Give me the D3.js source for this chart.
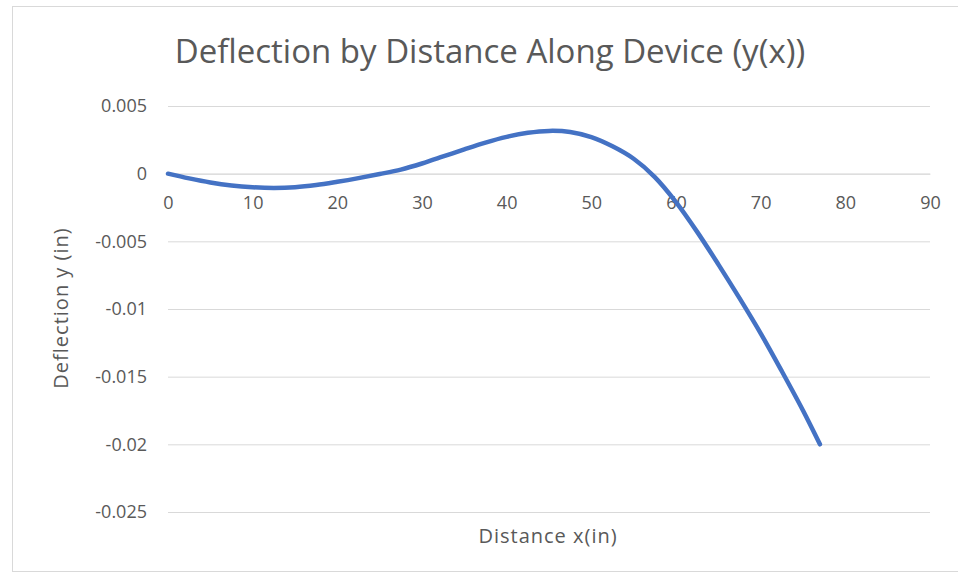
<!DOCTYPE html>
<html>
<head>
<meta charset="utf-8">
<script src="https://cdn.jsdelivr.net/npm/d3@7"></script>
<style>
  body { margin: 0; background: #fff; }
  text { font-family: "Open Sans", sans-serif; }
</style>
</head>
<body>
<script>
// data
var distance = [0, 2.5, 5, 7.5, 10, 12.5, 15, 17.5, 20, 22.5, 25, 27.5, 30, 32.5, 35, 37.5, 40, 42.5, 45, 47.5, 50, 52.5, 55, 57.5, 60, 62.5, 65, 67.5, 70, 72.5, 75, 77];
var deflection = [0, -0.00035, -0.00065, -0.00087, -0.001, -0.00105, -0.001, -0.00084, -0.0006, -0.00033, -0.00003, 0.0003, 0.00075, 0.00127, 0.0018, 0.0023, 0.00272, 0.00302, 0.00316, 0.00308, 0.0027, 0.00202, 0.0011, -0.00025, -0.0021, -0.0043, -0.0067, -0.0092, -0.0118, -0.0146, -0.0175, -0.02];
var xTicks = [0, 10, 20, 30, 40, 50, 60, 70, 80, 90];
var yTicks = [0.005, 0, -0.005, -0.01, -0.015, -0.02, -0.025];

var w = 958;
var h = 579;

var svg = d3.select('body')
    .append('svg')
    .attr('width', w)
    .attr('height', h);

// chart border
svg.append('rect')
    .attr('x', 12.5)
    .attr('y', 6.5)
    .attr('width', w - 12)
    .attr('height', 565)
    .attr('fill', 'white')
    .attr('stroke', '#d9d9d9');

var x = d3.scaleLinear().domain([0, 90]).range([168, 930]);
var y = d3.scaleLinear().domain([-0.025, 0.005]).range([512, 106]);

// gridlines
svg.append('g')
    .attr('transform', 'translate(' + 168 + ',0)')
    .call(d3.axisLeft(y).tickValues(yTicks).tickSize(-762).tickFormat(''))
    .call(function(g){
        g.select('.domain').remove();
        g.selectAll('line').attr('stroke', '#d9d9d9');
    });

// y tick labels
svg.selectAll('.ylab')
    .data(yTicks)
    .enter()
    .append('text')
    .attr('class', 'ylab')
    .attr('x', 147)
    .attr('y', function(d){ return y(d); })
    .attr('dy', '0.35em')
    .attr('text-anchor', 'end')
    .attr('font-size', '18px')
    .attr('fill', '#595959')
    .text(function(d){ return d; });

// x axis at y = 0, labels just under
svg.append('g')
    .attr('transform', 'translate(0,' + y(0) + ')')
    .call(d3.axisBottom(x).tickValues(xTicks).tickSize(0).tickPadding(23))
    .call(function(g){
        g.select('.domain').attr('stroke', '#d9d9d9');
        g.selectAll('text')
            .attr('font-family', '"Open Sans", sans-serif')
            .attr('font-size', '18px')
            .attr('fill', '#595959');
    });

// the deflection curve
var pts = distance.map(function(d, i){ return [d, deflection[i]]; });
var line = d3.line()
    .x(function(d){ return x(d[0]); })
    .y(function(d){ return y(d[1]); })
    .curve(d3.curveCatmullRom.alpha(0.5));

svg.append('path')
    .datum(pts)
    .attr('d', line)
    .attr('fill', 'none')
    .attr('stroke', '#4472c4')
    .attr('stroke-width', 4.5)
    .attr('stroke-linecap', 'round');

// titles
svg.append('text')
    .attr('x', 490)
    .attr('y', 63)
    .attr('text-anchor', 'middle')
    .attr('font-size', '33px')
    .attr('fill', '#595959')
    .text('Deflection by Distance Along Device (y(x))');

svg.append('text')
    .attr('x', 548)
    .attr('y', 543)
    .attr('text-anchor', 'middle')
    .attr('font-size', '20px')
    .attr('letter-spacing', '1px')
    .attr('fill', '#595959')
    .text('Distance x(in)');

svg.append('text')
    .attr('transform', 'translate(68,308) rotate(-90)')
    .attr('text-anchor', 'middle')
    .attr('font-size', '20px')
    .attr('letter-spacing', '1px')
    .attr('fill', '#595959')
    .text('Deflection y (in)');
</script>
</body>
</html>
